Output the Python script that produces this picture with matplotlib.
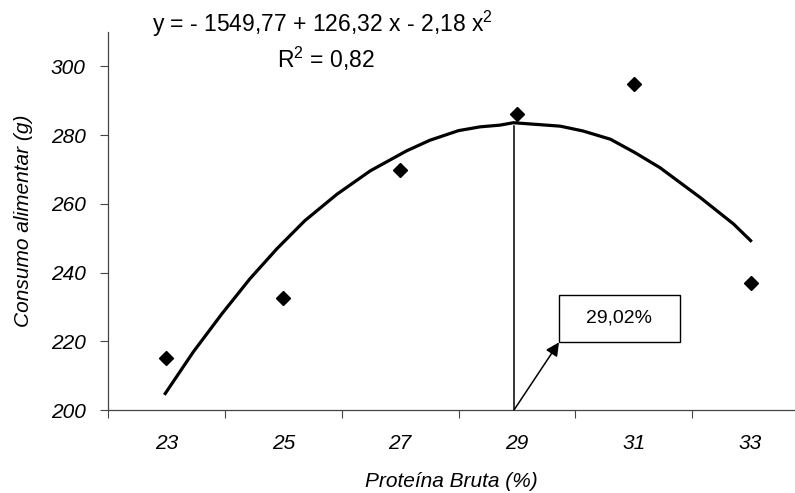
import numpy as np
import matplotlib
matplotlib.use("Agg")
import matplotlib.pyplot as plt
from matplotlib.patches import Rectangle
from matplotlib.ticker import FixedLocator

plt.rcParams['font.family'] = ['Liberation Sans', 'DejaVu Sans']
plt.rcParams['mathtext.fontset'] = 'custom'
plt.rcParams['mathtext.rm'] = 'Liberation Sans'
plt.rcParams['mathtext.it'] = 'Liberation Sans:italic'

# observed points
protein = [23, 25, 27, 29, 31, 33]
intake = [215.0, 232.6, 269.9, 286.0, 294.8, 237.1]

# fitted curve as drawn in the figure
curve_x = [22.98, 23.46, 23.95, 24.43, 24.89, 25.37, 25.92, 26.49, 27.11,
           27.51, 28.0, 28.37, 28.71, 28.94, 29.74, 30.13, 30.6, 31.02,
           31.45, 32.14, 32.71, 33.0]
curve_y = [204.8, 216.9, 228.0, 238.2, 246.9, 255.1, 262.8, 269.6, 275.4,
           278.5, 281.3, 282.4, 282.9, 283.6, 282.6, 281.2, 278.8, 274.9,
           270.5, 261.8, 254.1, 249.3]

optimum_x = 28.95
optimum_y = 282.6
optimum_label = "29,02%"

fig = plt.figure(figsize=(7.95, 4.93), dpi=100)
ax = fig.add_axes([108 / 795, 83 / 493, 1 - 108 / 795, (410 - 32) / 493])

ax.plot(curve_x, curve_y, color='black', lw=2.3, solid_joinstyle='round')
ax.plot(protein, intake, 'D', color='black', markersize=7)
ax.plot([optimum_x, optimum_x], [200, optimum_y], color='black', lw=1.1)

# label box with arrow
ax.add_patch(Rectangle((29.72, 219.7), 2.07, 13.9, fill=False, lw=1.0, ec='black'))
ax.text(30.755, 226.65, optimum_label, ha='center', va='center', fontsize=14)
ax.annotate("", xy=(29.72, 219.7), xytext=(optimum_x, 200),
            arrowprops=dict(arrowstyle='-|>', color='black', lw=1.1,
                            mutation_scale=20, shrinkA=0, shrinkB=0))

ax.set_xlim(22, 33.76)
ax.set_ylim(200, 310)
ax.set_yticks([200, 220, 240, 260, 280, 300])
ax.set_xticks(protein)
ax.xaxis.set_minor_locator(FixedLocator([22, 24, 26, 28, 30, 32]))
ax.tick_params(axis='x', which='major', length=0, pad=17, labelsize=15)
ax.tick_params(axis='x', which='minor', length=6, width=0.8, color='#444444')
ax.tick_params(axis='y', length=6, width=0.8, color='#444444', pad=10, labelsize=15)
for lab in ax.get_xticklabels() + ax.get_yticklabels():
    lab.set_fontstyle('italic')

for side in ['top', 'right']:
    ax.spines[side].set_visible(False)
for side in ['left', 'bottom']:
    ax.spines[side].set_color('#444444')
    ax.spines[side].set_linewidth(0.9)

ax.set_xlabel("Proteína Bruta (%)", fontsize=15, fontstyle='italic', labelpad=14)
ax.set_ylabel("Consumo alimentar (g)", fontsize=15, fontstyle='italic', labelpad=13)

fig.text(152 / 795, 1 - 32 / 493, "y = - 1549,77 + 126,32 x - 2,18 x$^2$",
         fontsize=16.5, va='baseline')
fig.text(277 / 795, 1 - 68 / 493, "R$^2$ = 0,82", fontsize=16.5, va='baseline')

fig.savefig("out.png", dpi=100)
